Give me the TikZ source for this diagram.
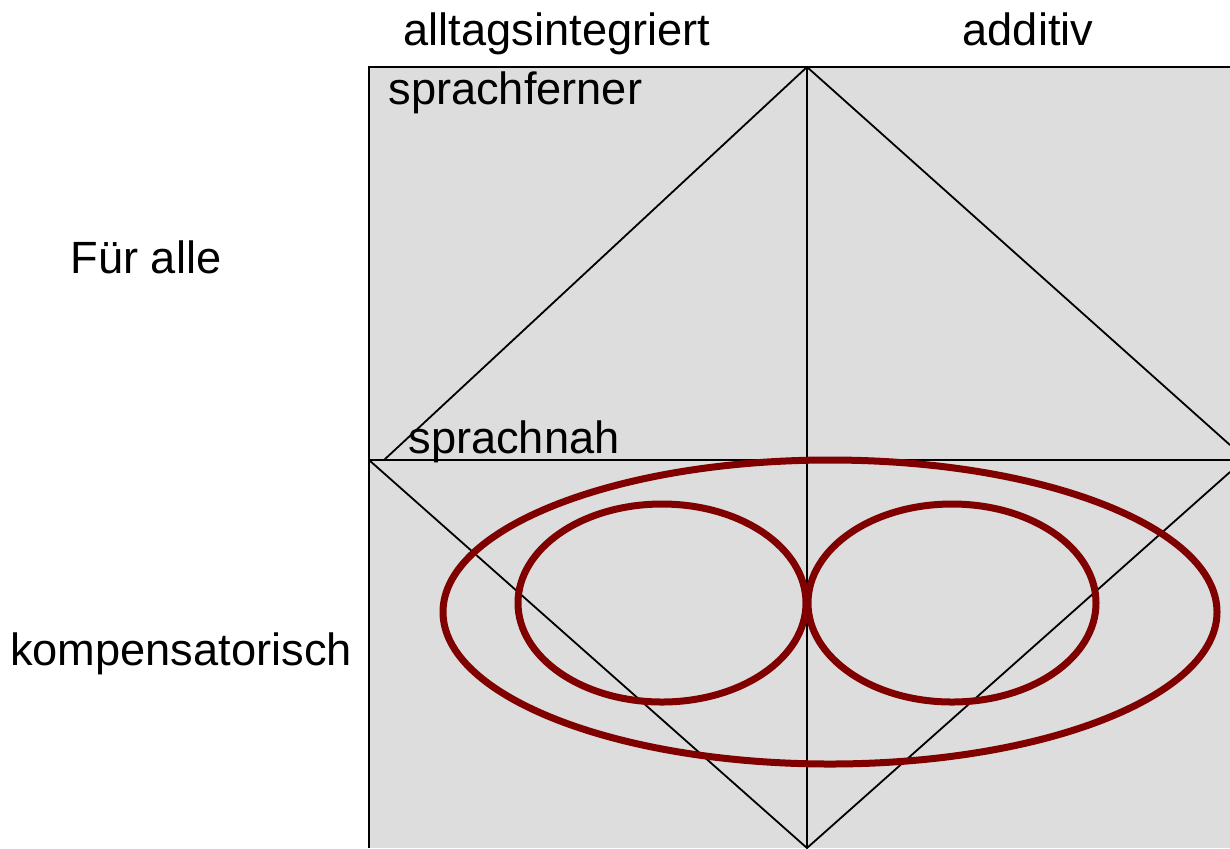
\documentclass[tikz,border=0pt]{standalone}
\usepackage{fontspec}
\setmainfont{Liberation Sans}
\usetikzlibrary{positioning}

\definecolor{feld}{HTML}{DDDDDD}
\definecolor{kreis}{HTML}{800000}

\tikzset{
  label text/.style={font=\fontsize{22.6}{26}\selectfont, inner sep=0pt},
  linie/.style={line width=0.9pt, black},
  ring/.style={line width=3.5pt, draw=kreis},
}

\begin{document}
\begin{tikzpicture}[x=0.5pt, y=-0.5pt]
  \useasboundingbox (0,0) rectangle (1230,848);

  % Feld
  \fill[feld] (369,67) rectangle (1230,848);
  \draw[linie] (1230,67) -- (369,67) -- (369,848);
  \coordinate (mitteL) at (369,460);
  \coordinate (mitteR) at (1230,460);
  \coordinate (oben) at (807,67);
  \coordinate (unten) at (807,848);
  \draw[linie] (mitteL) -- (mitteR);
  \draw[linie] (oben) -- (unten);

  % oberes Dreieck
  \coordinate (obenL) at (384,460);
  \coordinate (obenR) at (1230,445);
  \draw[linie] (obenL) -- (oben) -- (obenR);

  % unteres Dreieck
  \coordinate (untenR) at (1230,472);
  \draw[linie] (mitteL) -- (unten) -- (untenR);

  % Ellipsen
  \draw[ring] (830,612) ellipse [x radius=387, y radius=152];
  \draw[ring] (662,603) ellipse [x radius=144, y radius=99];
  \draw[ring] (952,603) ellipse [x radius=144, y radius=99];

  % Beschriftung
  \node[label text, anchor=base] (integriert) at (557,45) {alltagsintegriert};
  \node[label text, anchor=base] (additiv) at (1028,45) {additiv};
  \node[label text, anchor=base west] (ferner) at (388,104) {sprachferner};
  \node[label text, anchor=base west] (nah) at (408,453) {sprachnah};
  \node[label text, anchor=base] (alle) at (146,273) {Für alle};
  \node[label text, anchor=base] (kompensatorisch) at (181,665) {kompensatorisch};
\end{tikzpicture}
\end{document}
